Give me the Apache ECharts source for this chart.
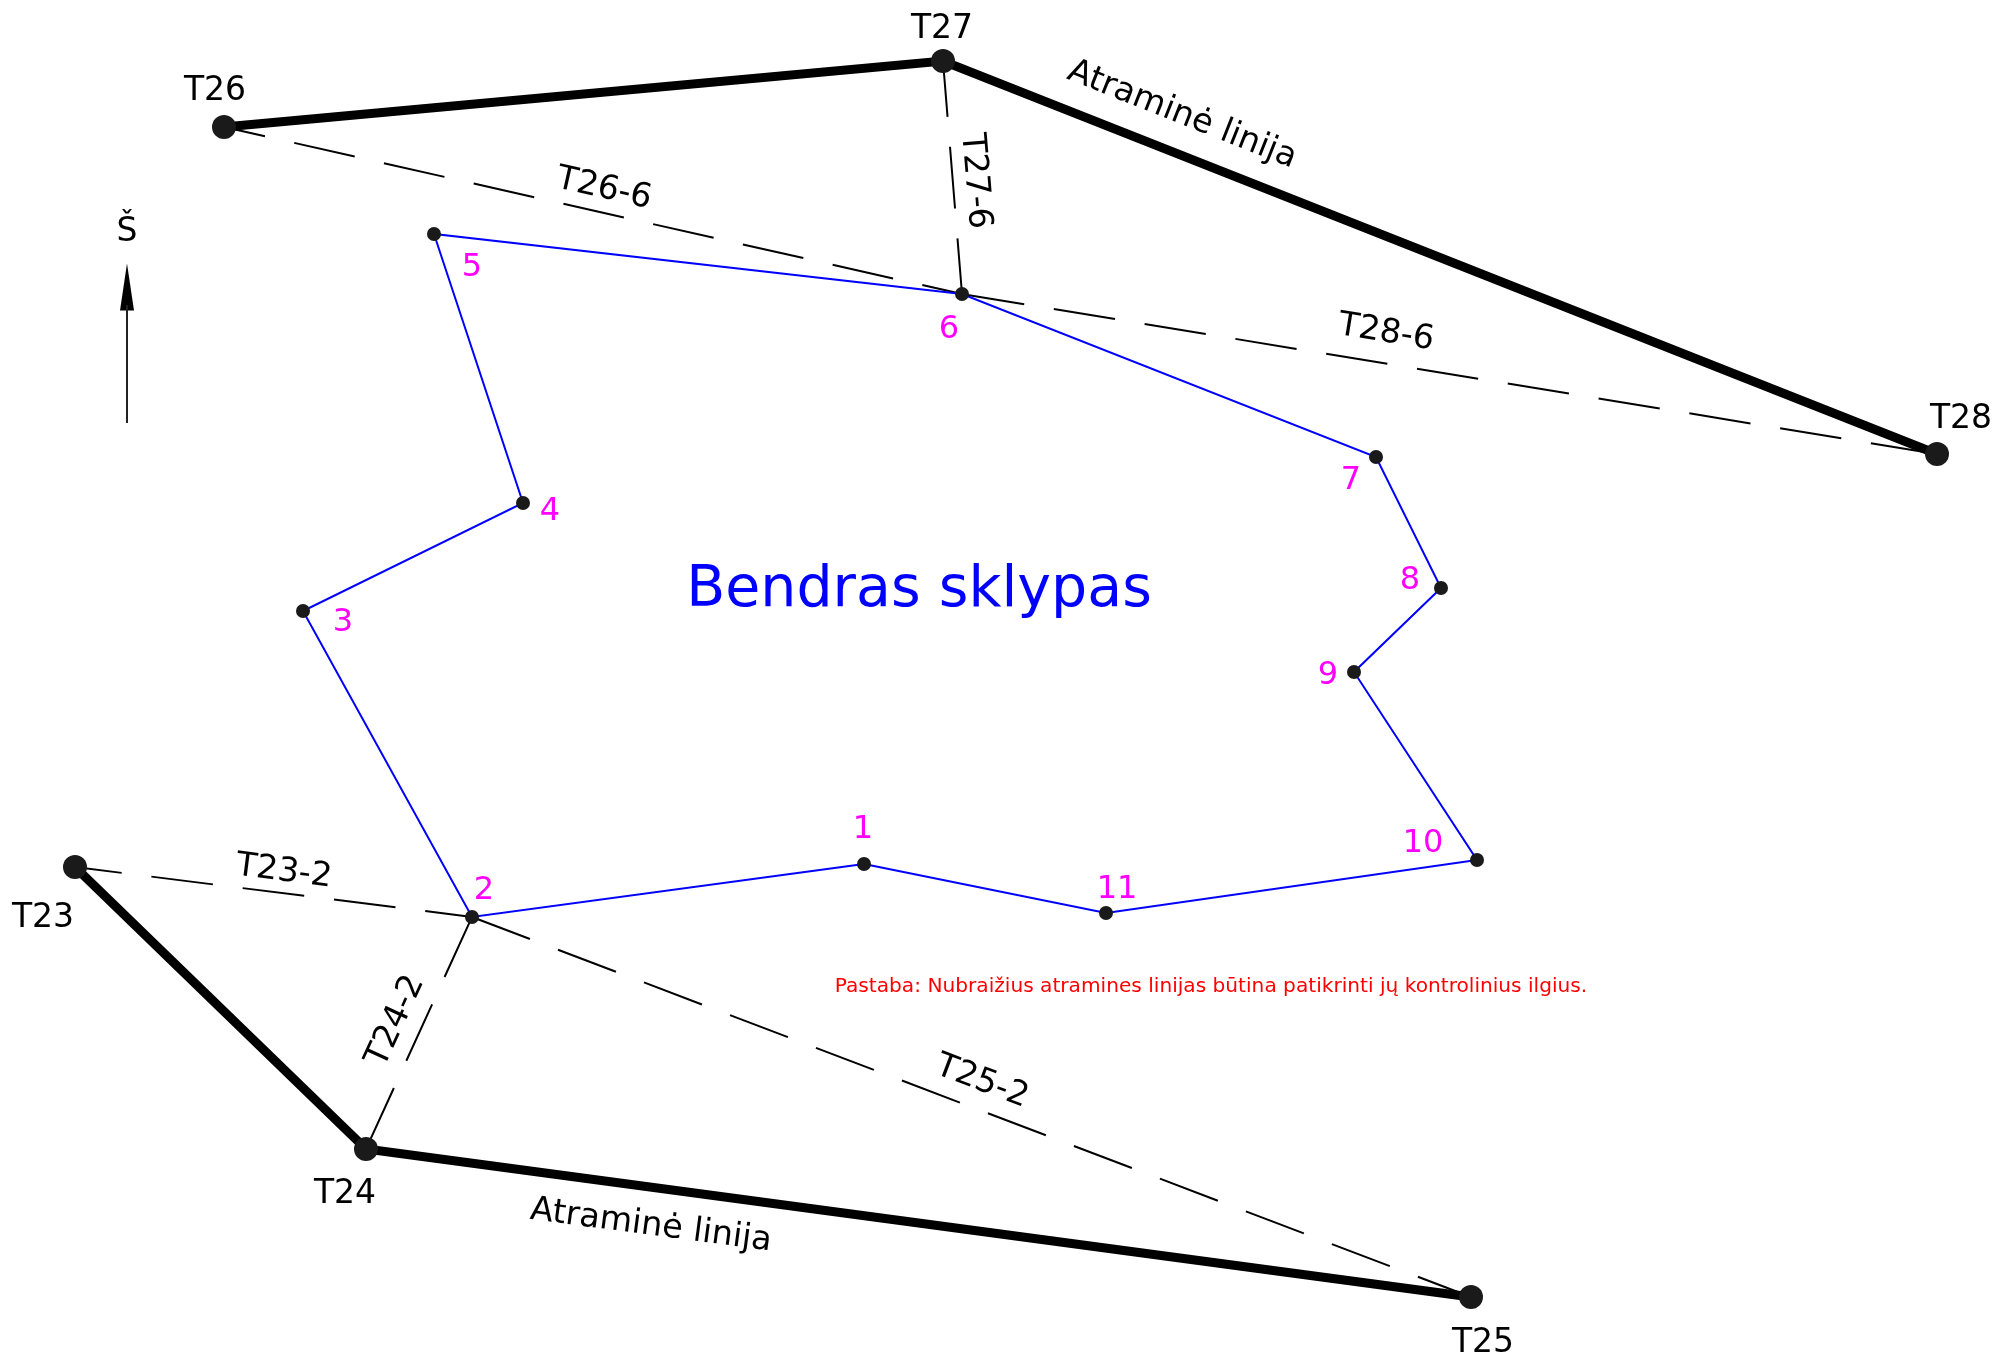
<!DOCTYPE html>
<html>
<head>
<meta charset="utf-8">
<title>Bendras sklypas</title>
<style>
  html, body { margin: 0; padding: 0; background: #fff; }
  #chart { width: 1995px; height: 1358px; }
</style>
<script src="https://cdn.jsdelivr.net/npm/echarts@6/dist/echarts.min.js"></script>
</head>
<body>
<div id="chart"></div>
<script>
// plot coordinates (y grows downwards)
const T23 = [75, 867];
const T24 = [366, 1149];
const T25 = [1471, 1297];
const T26 = [224, 127];
const T27 = [943, 61];
const T28 = [1937, 454];

const P1 = [864, 864];
const P2 = [472, 917];
const P3 = [303, 611];
const P4 = [523, 503];
const P5 = [434, 234];
const P6 = [962, 294];
const P7 = [1376, 457];
const P8 = [1441, 588];
const P9 = [1354, 672];
const P10 = [1477, 860];
const P11 = [1106, 913];

const parcel = [P1, P2, P3, P4, P5, P6, P7, P8, P9, P10, P11, P1];
const supportSouth = [T23, T24, T25];
const supportNorth = [T26, T27, T28];
const controlPoints = [T23, T24, T25, T26, T27, T28];
const parcelPoints = [P1, P2, P3, P4, P5, P6, P7, P8, P9, P10, P11];

const controlLines = [[T26, P6], [T28, P6], [T27, P6], [T23, P2], [P2, T25], [P2, T24]];

const stationNames = ['T23', 'T24', 'T25', 'T26', 'T27', 'T28'];
const stationSpots = [[43, 918], [345, 1194], [1483, 1343], [215, 91], [942, 29], [1961, 419]];

const lineNames = ['T26-6', 'T28-6', 'T27-6', 'T23-2', 'T25-2', 'T24-2', 'Atraminė linija', 'Atraminė linija'];
const lineSpots = [[604, 189], [1386, 333], [975, 181], [284, 872], [982, 1082], [396, 1021], [1182, 115], [651, 1226]];

const pointNames = ['1', '2', '3', '4', '5', '6', '7', '8', '9', '10', '11'];
const pointSpots = [[863, 830], [484, 891], [343, 623], [550, 512], [472, 268], [949, 330], [1351, 481], [1410, 581], [1328, 676], [1423, 844], [1117, 890]];

const arrowShaft = [[127, 423], [127, 305]];
const arrowHead = [[127, 287]];
const northSpot = [[127, 232]];
const titleSpot = [[919, 591]];
const noteSpot = [[1211, 987]];

const FONT = 'DejaVu Sans';

function polyline(points, color, width, extra) {
  return Object.assign({
    type: 'line',
    data: points,
    symbol: 'none',
    silent: true,
    clip: false,
    lineStyle: { color: color, width: width, join: 'miter', cap: 'butt' }
  }, extra || {});
}

function textSeries(spots, names, color, size, angles) {
  return {
    type: 'scatter',
    symbolSize: 1,
    itemStyle: { color: 'transparent', opacity: 1 },
    silent: true,
    z: 5,
    data: spots.map(function (s, i) {
      return {
        value: s,
        label: {
          show: true,
          position: 'inside',
          formatter: names[i],
          rotate: angles ? angles[i] : 0,
          align: 'center',
          verticalAlign: 'middle',
          color: color,
          fontFamily: FONT,
          fontSize: size
        }
      };
    })
  };
}

// where each dash pattern starts along its line
const dashOffsets = [20, 87, 6, 15, 0, 88];
const dashed = controlLines.map(function (l, i) {
  return polyline(l, '#000', 2, {
    lineStyle: { color: '#000', width: 2, cap: 'butt', type: [62, 30], dashOffset: dashOffsets[i] }
  });
});

const lineAngles = [-12.7, -9.3, -85.3, -7.3, -20.7, 65.4, -21.6, -7.5];

let myChart = echarts.init(document.getElementById('chart'), null, { renderer: 'canvas' });
let option = {
  backgroundColor: '#fff',
  animation: false,
  grid: { left: 0, right: 0, top: 0, bottom: 0 },
  xAxis: { type: 'value', min: 0, max: 1995, show: false },
  yAxis: { type: 'value', min: 0, max: 1358, inverse: true, show: false },
  series: dashed.concat([
    polyline(parcel, '#0000ff', 2),
    polyline(supportSouth, '#000', 9),
    polyline(supportNorth, '#000', 9),
    polyline(arrowShaft, '#222', 2),
    {
      type: 'scatter',
      data: arrowHead,
      symbol: 'triangle',
      symbolSize: [14, 47],
      itemStyle: { color: '#000', opacity: 1 },
      silent: true
    },
    {
      type: 'scatter',
      data: controlPoints,
      symbolSize: 24,
      itemStyle: { color: '#1a1a1a', opacity: 1 },
      silent: true,
      z: 3
    },
    {
      type: 'scatter',
      data: parcelPoints,
      symbolSize: 14,
      itemStyle: { color: '#1a1a1a', opacity: 1 },
      silent: true,
      z: 3
    },
    textSeries(stationSpots, stationNames, '#000', 33),
    textSeries(lineSpots, lineNames, '#000', 33.5, lineAngles),
    textSeries(pointSpots, pointNames, '#ff00ff', 32),
    textSeries(northSpot, ['Š'], '#000', 33),
    textSeries(titleSpot, ['Bendras sklypas'], '#0000ff', 57),
    textSeries(noteSpot, ['Pastaba: Nubraižius atramines linijas būtina patikrinti jų kontrolinius ilgius.'], '#ff0000', 20.15)
  ])
};

option && myChart.setOption(option);
</script>
</body>
</html>
